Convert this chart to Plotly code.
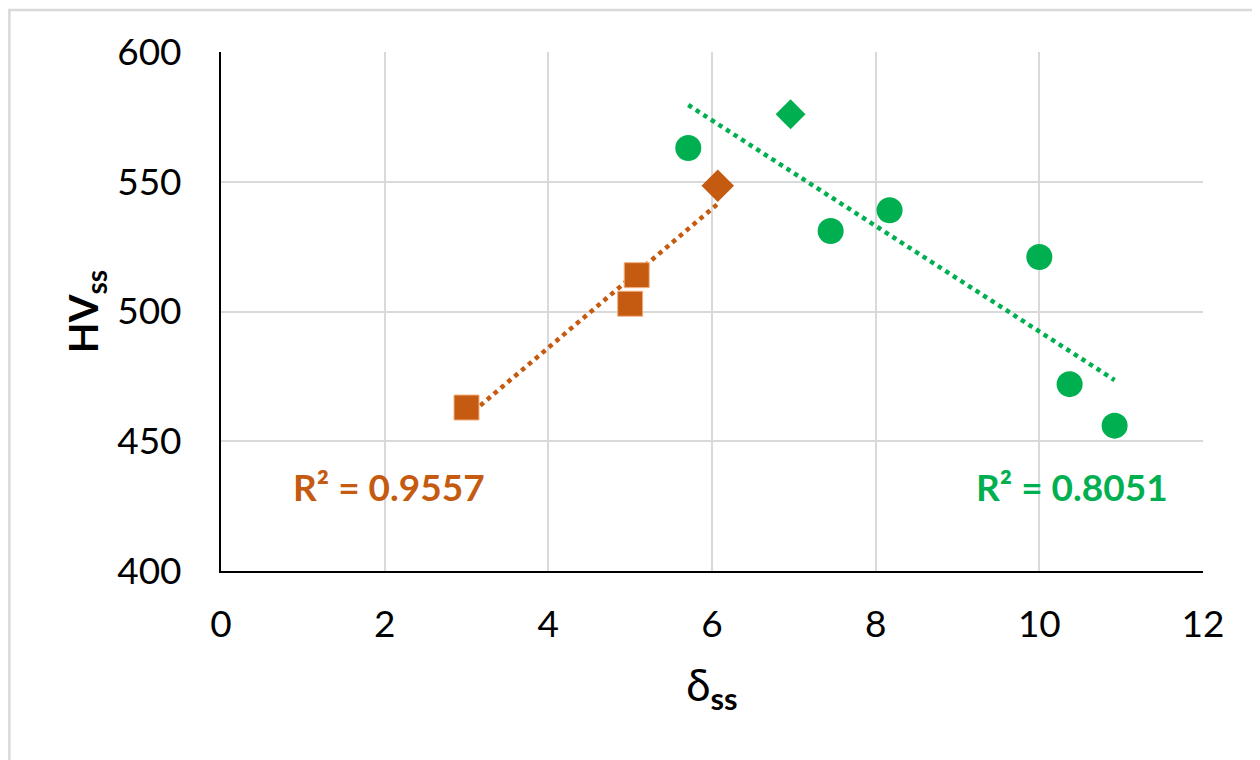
import numpy as np
import plotly.graph_objects as go

# ---- data ----
orange_sq_x = [3.0, 5.0, 5.08]
orange_sq_y = [463, 503, 514]
orange_dia_x = [6.07]
orange_dia_y = [548.5]

green_circ_x = [5.71, 7.45, 8.17, 10.0, 10.37, 10.92]
green_circ_y = [563, 531, 539, 521, 472, 456]
green_dia_x = [6.96]
green_dia_y = [576]

r2_orange = "R² = 0.9557"
r2_green = "R² = 0.8051"

x_ticks = [0, 2, 4, 6, 8, 10, 12]
y_ticks = [400, 450, 500, 550, 600]

ORANGE = "#C55A11"
GREEN = "#00B050"
FONT = "Lato"

fig = go.Figure()

def trend(xs, ys):
    xs = np.array(xs, float); ys = np.array(ys, float)
    m, b = np.polyfit(xs, ys, 1)
    xx = np.array([xs.min(), xs.max()])
    return xx, m * xx + b

ox, oy = trend(orange_sq_x + orange_dia_x, orange_sq_y + orange_dia_y)
gx, gy = trend(green_circ_x + green_dia_x, green_circ_y + green_dia_y)

fig.add_trace(go.Scatter(x=ox, y=oy, mode="lines",
                         line=dict(color=ORANGE, width=4.5, dash="4.5px,4.5px"),
                         showlegend=False, hoverinfo="skip"))
fig.add_trace(go.Scatter(x=gx, y=gy, mode="lines",
                         line=dict(color=GREEN, width=4.5, dash="4.5px,4.5px"),
                         showlegend=False, hoverinfo="skip"))

fig.add_trace(go.Scatter(x=orange_sq_x, y=orange_sq_y, mode="markers",
                         marker=dict(symbol="square", size=25, color=ORANGE,
                                     line=dict(width=1, color="#F4B183")),
                         showlegend=False))
fig.add_trace(go.Scatter(x=orange_dia_x, y=orange_dia_y, mode="markers",
                         marker=dict(symbol="diamond", size=25, color=ORANGE, line=dict(width=0)),
                         showlegend=False))
fig.add_trace(go.Scatter(x=green_circ_x, y=green_circ_y, mode="markers",
                         marker=dict(symbol="circle", size=26, color=GREEN, line=dict(width=0)),
                         showlegend=False))
fig.add_trace(go.Scatter(x=green_dia_x, y=green_dia_y, mode="markers",
                         marker=dict(symbol="diamond", size=23, color=GREEN, line=dict(width=0)),
                         showlegend=False))

fig.add_annotation(x=2.05, y=432.5, text="<b>" + r2_orange + "</b>", showarrow=False,
                   font=dict(family=FONT, size=37, color=ORANGE))
fig.add_annotation(x=10.4, y=432.5, text="<b>" + r2_green + "</b>", showarrow=False,
                   font=dict(family=FONT, size=37, color=GREEN))

# outer chart border
fig.add_shape(type="rect", xref="paper", yref="paper",
              x0=-0.2155, x1=1.07, y0=-0.40, y1=1.081,
              line=dict(color="#D9D9D9", width=2.5), fillcolor="rgba(0,0,0,0)", layer="below")

fig.update_layout(
    width=1260, height=760,
    margin=dict(l=213, r=65, t=44, b=197),
    paper_bgcolor="white", plot_bgcolor="white",
    font=dict(family=FONT, size=37, color="black"),
    xaxis=dict(range=[0, 12], tickvals=x_ticks, showgrid=True, gridcolor="#D9D9D9", gridwidth=2,
               zeroline=False, showline=True, linecolor="black", linewidth=2,
               tickfont=dict(size=37), ticklabelstandoff=20,
               title=dict(text="δ<sub><b>ss</b></sub>", font=dict(size=44), standoff=26)),
    yaxis=dict(range=[400, 600], tickvals=y_ticks, showgrid=True, gridcolor="#D9D9D9", gridwidth=2,
               zeroline=False, showline=True, linecolor="black", linewidth=2,
               tickfont=dict(size=37), ticklabelstandoff=30,
               title=dict(text="<b>HV<sub>ss</sub></b>", font=dict(size=40), standoff=6)),
)

fig.write_html("out.html")
